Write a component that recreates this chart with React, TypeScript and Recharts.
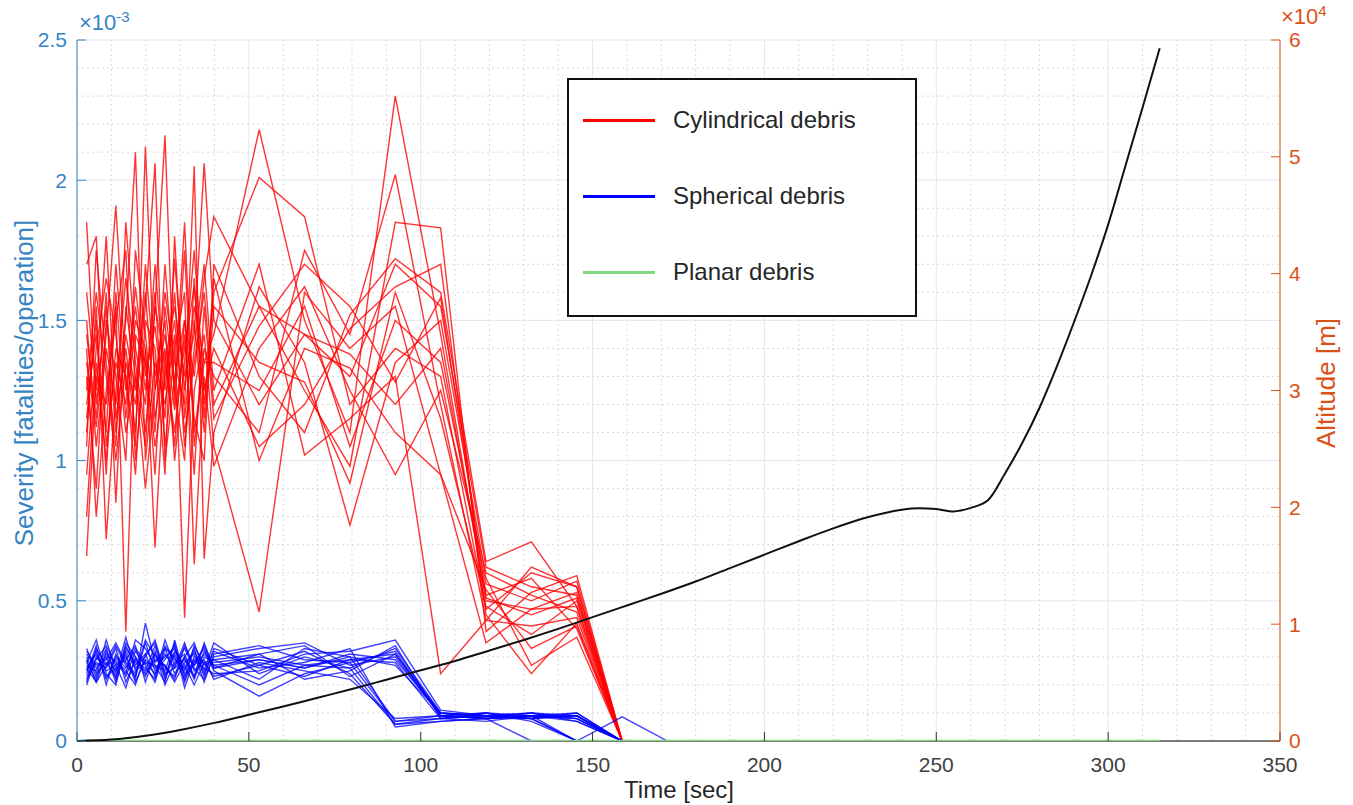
import React from 'react';
import { LineChart, Line, XAxis, YAxis, CartesianGrid, ReferenceLine } from 'recharts';

// sample times (sec): dense phase up to ~40 s, then ~13 s steps
const TIME = [2.8, 5.6, 8.5, 11.3, 14.2, 17.0, 19.9, 22.7, 25.6, 28.4, 31.3, 34.1, 37.0, 39.8, 53, 66.2, 79.4, 92.6, 105.8, 119, 132.2, 145.4, 158.6, 171.8];

// Cylindrical debris severity runs (x1e-3 fatalities/operation)
const CYLINDRICAL = [
  [1.85, 1.20, 1.55, 1.10, 1.45, 1.25, 1.60, 1.15, 1.40, 1.05, 1.50, 1.30, 1.65, 1.87, 1.55, 1.45, 1.30, 1.70, 1.55, 0.62, 0.55, 0.52, 0],
  [1.70, 1.80, 1.05, 1.35, 1.20, 1.62, 1.30, 1.48, 1.15, 1.72, 1.25, 1.55, 1.35, 1.45, 2.18, 1.50, 1.10, 2.30, 1.45, 0.50, 0.47, 0.48, 0],
  [1.35, 1.12, 1.45, 1.91, 1.30, 1.05, 2.12, 1.25, 1.45, 1.18, 1.40, 1.62, 1.20, 1.60, 2.01, 1.87, 1.20, 1.40, 1.30, 0.47, 0.60, 0.55, 0],
  [1.10, 1.55, 0.72, 1.25, 1.65, 1.35, 1.10, 1.55, 2.16, 1.20, 1.75, 1.05, 1.40, 1.30, 1.10, 1.75, 1.45, 2.02, 1.20, 0.43, 0.41, 0.44, 0],
  [0.66, 1.30, 1.20, 1.55, 0.39, 1.45, 1.35, 1.05, 1.30, 1.50, 1.10, 1.35, 1.60, 1.20, 1.55, 1.25, 0.98, 1.85, 1.83, 0.39, 0.53, 0.59, 0],
  [1.50, 1.05, 1.40, 1.20, 1.50, 2.10, 1.00, 1.35, 1.20, 1.45, 0.44, 1.25, 1.45, 1.05, 0.46, 1.60, 1.40, 1.55, 0.95, 0.54, 0.33, 0.41, 0],
  [1.25, 1.60, 1.30, 1.00, 1.35, 1.20, 1.55, 2.06, 1.00, 1.30, 1.50, 1.15, 1.00, 1.70, 1.30, 1.10, 1.52, 1.72, 1.60, 0.64, 0.71, 0.48, 0],
  [0.95, 1.40, 1.65, 1.45, 1.10, 1.30, 0.90, 1.25, 1.60, 1.35, 1.20, 2.05, 0.65, 1.10, 1.62, 1.35, 0.77, 1.35, 1.50, 0.58, 0.27, 0.37, 0],
  [1.40, 0.80, 1.25, 1.50, 1.75, 1.00, 1.40, 0.69, 1.35, 1.55, 1.30, 1.45, 2.06, 1.50, 1.20, 1.45, 1.38, 1.20, 1.40, 0.51, 0.45, 0.51, 0],
  [1.20, 1.45, 1.10, 1.70, 1.25, 1.55, 1.25, 1.60, 1.05, 1.40, 1.60, 0.63, 1.30, 0.98, 1.40, 1.62, 1.25, 0.95, 1.25, 0.60, 0.52, 0.46, 0],
  [1.60, 1.25, 1.80, 1.15, 1.40, 1.10, 1.70, 1.30, 1.50, 1.00, 1.35, 1.75, 1.25, 1.40, 1.05, 1.20, 1.47, 1.62, 1.70, 0.45, 0.24, 0.42, 0],
  [1.05, 1.75, 1.35, 1.05, 1.85, 1.40, 1.20, 1.70, 1.25, 1.60, 1.05, 1.40, 1.70, 1.25, 1.70, 1.02, 1.15, 1.30, 0.24, 0.43, 0.62, 0.55, 0],
  [1.30, 0.90, 1.50, 1.30, 1.00, 1.75, 1.45, 1.10, 1.70, 1.25, 1.85, 1.10, 1.35, 1.35, 1.25, 1.55, 1.05, 1.50, 1.35, 0.56, 0.50, 0.57, 0],
  [0.80, 1.35, 1.00, 1.40, 1.30, 0.95, 1.50, 1.40, 0.95, 1.80, 1.15, 1.50, 1.10, 1.55, 1.35, 1.28, 0.92, 1.60, 1.15, 0.48, 0.38, 0.50, 0],
  [1.45, 1.15, 1.60, 0.85, 1.55, 1.30, 1.05, 1.55, 1.35, 1.10, 1.45, 0.95, 1.55, 1.15, 1.48, 1.70, 1.55, 1.28, 1.58, 0.52, 0.58, 0.40, 0],
  [1.15, 1.50, 0.95, 1.60, 1.15, 1.50, 1.40, 0.95, 1.55, 1.25, 1.00, 1.65, 1.15, 1.65, 1.00, 1.40, 1.33, 1.10, 0.95, 0.35, 0.47, 0.53, 0],
];

// Spherical debris severity runs (x1e-3)
const SPHERICAL = [
  [0.25, 0.32, 0.22, 0.30, 0.26, 0.33, 0.28, 0.24, 0.31, 0.26, 0.29, 0.23, 0.30, 0.28, 0.30, 0.27, 0.29, 0.31, 0.09, 0.08, 0.09, 0.08, 0],
  [0.30, 0.23, 0.36, 0.25, 0.31, 0.22, 0.42, 0.28, 0.33, 0.24, 0.30, 0.35, 0.25, 0.35, 0.24, 0.30, 0.26, 0.33, 0.10, 0.09, 0.10, 0.09, 0],
  [0.22, 0.28, 0.26, 0.33, 0.21, 0.29, 0.25, 0.34, 0.22, 0.31, 0.24, 0.28, 0.33, 0.25, 0.16, 0.24, 0.28, 0.07, 0.08, 0.09, 0.08, 0.10, 0],
  [0.28, 0.36, 0.24, 0.20, 0.34, 0.27, 0.31, 0.23, 0.36, 0.27, 0.33, 0.26, 0.22, 0.30, 0.33, 0.35, 0.27, 0.30, 0.09, 0.10, 0.08, 0, 0],
  [0.26, 0.21, 0.31, 0.28, 0.24, 0.36, 0.33, 0.27, 0.25, 0.35, 0.21, 0.30, 0.28, 0.23, 0.27, 0.32, 0.24, 0.06, 0.07, 0.08, 0, 0, 0],
  [0.32, 0.27, 0.29, 0.35, 0.28, 0.24, 0.36, 0.30, 0.27, 0.22, 0.34, 0.27, 0.31, 0.27, 0.29, 0.26, 0.31, 0.29, 0.10, 0.09, 0.09, 0, 0.086, 0],
  [0.20, 0.30, 0.25, 0.27, 0.30, 0.21, 0.29, 0.26, 0.30, 0.33, 0.25, 0.32, 0.24, 0.32, 0.26, 0.28, 0.33, 0.05, 0.07, 0.08, 0.09, 0.09, 0],
  [0.27, 0.25, 0.33, 0.22, 0.35, 0.30, 0.23, 0.32, 0.20, 0.28, 0.31, 0.23, 0.35, 0.26, 0.31, 0.22, 0.25, 0.34, 0.08, 0.09, 0.10, 0.07, 0],
  [0.24, 0.34, 0.20, 0.31, 0.23, 0.32, 0.27, 0.21, 0.33, 0.30, 0.22, 0.34, 0.27, 0.29, 0.22, 0.33, 0.30, 0.27, 0.10, 0.08, 0.09, 0.10, 0],
  [0.33, 0.24, 0.28, 0.23, 0.32, 0.26, 0.30, 0.36, 0.24, 0.26, 0.35, 0.25, 0.29, 0.22, 0.28, 0.25, 0.22, 0.08, 0.09, 0.08, 0.10, 0.08, 0],
  [0.23, 0.29, 0.34, 0.27, 0.19, 0.30, 0.24, 0.29, 0.27, 0.21, 0.28, 0.31, 0.21, 0.31, 0.34, 0.29, 0.28, 0.32, 0.09, 0.10, 0.07, 0, 0],
  [0.29, 0.21, 0.27, 0.34, 0.27, 0.23, 0.35, 0.25, 0.29, 0.34, 0.19, 0.29, 0.26, 0.24, 0.25, 0.31, 0.32, 0.36, 0.11, 0.09, 0.08, 0.09, 0],
  [0.26, 0.31, 0.23, 0.26, 0.29, 0.34, 0.21, 0.31, 0.26, 0.23, 0.30, 0.22, 0.32, 0.27, 0.20, 0.27, 0.26, 0.06, 0.08, 0.10, 0.09, 0.07, 0],
  [0.31, 0.26, 0.30, 0.21, 0.33, 0.28, 0.26, 0.22, 0.34, 0.29, 0.26, 0.33, 0.23, 0.33, 0.27, 0.23, 0.29, 0.28, 0.08, 0.07, 0.09, 0.08, 0],
  [0.21, 0.33, 0.27, 0.29, 0.25, 0.20, 0.31, 0.35, 0.23, 0.32, 0.27, 0.20, 0.28, 0.29, 0.31, 0.34, 0.23, 0.31, 0.10, 0.09, 0.08, 0.09, 0],
  [0.28, 0.22, 0.32, 0.24, 0.37, 0.25, 0.28, 0.27, 0.21, 0.36, 0.23, 0.27, 0.34, 0.26, 0.29, 0.26, 0.30, 0.07, 0.09, 0.08, 0.08, 0, 0],
];

// Planar debris stays at zero
const PLANAR_TIME = [2.8, 315];
const PLANAR = [0, 0];

// Vehicle altitude (m)
const ALT_TIME = [0, 10, 20, 30, 40, 50, 60, 70, 80, 90, 100, 110, 120, 130, 140, 150, 160, 170, 180, 190, 200, 210, 220, 230, 240, 245, 250, 255, 260, 265, 270, 275, 280, 285, 290, 295, 300, 305, 310, 315];
const ALTITUDE = [0, 120, 450, 950, 1550, 2250, 2950, 3700, 4450, 5250, 6050, 6850, 7750, 8650, 9600, 10600, 11600, 12600, 13650, 14800, 15950, 17100, 18200, 19150, 19800, 19920, 19850, 19650, 19950, 20600, 22900, 25500, 28500, 32000, 35800, 39800, 44200, 49200, 54200, 59300];

const X_TICKS = [0, 50, 100, 150, 200, 250, 300, 350];
const X_MINOR = [10, 20, 30, 40, 60, 70, 80, 90, 110, 120, 130, 140, 160, 170, 180, 190, 210, 220, 230, 240, 260, 270, 280, 290, 310, 320, 330, 340];
const Y_TICKS = [0, 0.5, 1, 1.5, 2, 2.5];
const Y_MINOR = [0.1, 0.2, 0.3, 0.4, 0.6, 0.7, 0.8, 0.9, 1.1, 1.2, 1.3, 1.4, 1.6, 1.7, 1.8, 1.9, 2.1, 2.2, 2.3, 2.4];
const ALT_TICKS = [0, 10000, 20000, 30000, 40000, 50000, 60000];

const LEGEND = [
  { label: 'Cylindrical debris', color: '#ff0000' },
  { label: 'Spherical debris', color: '#0000ff' },
  { label: 'Planar debris', color: '#7fd87f' },
];

const FONT = '"Liberation Sans", Arial, Helvetica, sans-serif';
const BLUE = '#3585c5';
const ORANGE = '#d95319';

const rows = TIME.map((t, i) => {
  const row: Record<string, number | undefined> = { t };
  CYLINDRICAL.forEach((s, k) => { row[`c${k}`] = s[i]; });
  SPHERICAL.forEach((s, k) => { row[`s${k}`] = s[i]; });
  return row;
});
const planarRows = PLANAR_TIME.map((t, i) => ({ t, v: PLANAR[i] }));
const altRows = ALT_TIME.map((t, i) => ({ t, alt: ALTITUDE[i] }));

export default function App() {
  return (
    <div style={{ position: 'absolute', left: 0, top: 0, width: 1353, height: 805, background: '#fff', fontFamily: FONT }}>
      <LineChart width={1353} height={805} data={rows} margin={{ top: 40, right: 33, bottom: 34, left: 37 }}>
        <CartesianGrid xAxisId="bottom" yAxisId="left" stroke="#e2e8ef" strokeWidth={1} />
        {X_MINOR.map((v) => (
          <ReferenceLine key={`mx-${v}`} x={v} xAxisId="bottom" yAxisId="left" stroke="#d9d9d9" strokeDasharray="2 3" />
        ))}
        {Y_MINOR.map((v) => (
          <ReferenceLine key={`my-${v}`} y={v} xAxisId="bottom" yAxisId="left" stroke="#d9d9d9" strokeDasharray="2 3" />
        ))}
        <ReferenceLine y={0} xAxisId="bottom" yAxisId="left" stroke="#555" strokeWidth={1.5} />
        <XAxis
          xAxisId="bottom"
          dataKey="t"
          type="number"
          domain={[0, 350]}
          ticks={X_TICKS}
          allowDataOverflow
          height={30}
          tickSize={-9}
          tickMargin={25}
          axisLine={false}
          stroke="#333"
          tick={{ fill: '#404040', fontSize: 21, fontFamily: FONT }}
        />
        <XAxis
          xAxisId="top"
          orientation="top"
          dataKey="t"
          type="number"
          domain={[0, 350]}
          ticks={X_TICKS}
          height={0}
          tickSize={-9}
          tickFormatter={() => ''}
          stroke="#555"
        />
        <YAxis
          yAxisId="left"
          domain={[0, 2.5]}
          ticks={Y_TICKS}
          width={40}
          tickSize={-9}
          tickMargin={19}
          stroke={BLUE}
          tick={{ fill: BLUE, fontSize: 21, fontFamily: FONT }}
          allowDataOverflow
        />
        <YAxis
          yAxisId="right"
          orientation="right"
          domain={[0, 60000]}
          ticks={ALT_TICKS}
          width={40}
          tickSize={-9}
          tickMargin={18}
          stroke={ORANGE}
          tickFormatter={(v: number) => String(v / 10000)}
          tick={{ fill: ORANGE, fontSize: 21, fontFamily: FONT, textAnchor: 'start' }}
        />
        {CYLINDRICAL.map((_, k) => (
          <Line
            key={`cyl-${k}`}
            xAxisId="bottom"
            yAxisId="left"
            dataKey={`c${k}`}
            type="linear"
            stroke="#ff0000"
            strokeOpacity={0.8}
            strokeWidth={1.4}
            dot={false}
            activeDot={false}
            isAnimationActive={false}
          />
        ))}
        {SPHERICAL.map((_, k) => (
          <Line
            key={`sph-${k}`}
            xAxisId="bottom"
            yAxisId="left"
            dataKey={`s${k}`}
            type="linear"
            stroke="#0000ff"
            strokeOpacity={0.75}
            strokeWidth={1.4}
            dot={false}
            activeDot={false}
            isAnimationActive={false}
          />
        ))}
        <Line
          xAxisId="bottom"
          yAxisId="left"
          data={planarRows}
          dataKey="v"
          type="linear"
          stroke="#7fd87f"
          strokeWidth={2.5}
          dot={false}
          activeDot={false}
          isAnimationActive={false}
        />
        <Line
          xAxisId="bottom"
          yAxisId="right"
          data={altRows}
          dataKey="alt"
          type="monotone"
          stroke="#111"
          strokeWidth={2}
          dot={false}
          activeDot={false}
          isAnimationActive={false}
        />
      </LineChart>

      {/* exponent labels */}
      <div style={{ position: 'absolute', left: 79, top: 8, color: BLUE, fontSize: 22, whiteSpace: 'nowrap' }}>
        ×10<sup style={{ fontSize: 15 }}>-3</sup>
      </div>
      <div style={{ position: 'absolute', left: 1281, top: 2, color: ORANGE, fontSize: 22, whiteSpace: 'nowrap' }}>
        ×10<sup style={{ fontSize: 15 }}>4</sup>
      </div>

      {/* axis titles */}
      <div style={{ position: 'absolute', left: 24, top: 383, transform: 'translate(-50%, -50%) rotate(-90deg)', color: BLUE, fontSize: 26, whiteSpace: 'nowrap' }}>
        Severity [fatalities/operation]
      </div>
      <div style={{ position: 'absolute', left: 1326, top: 383, transform: 'translate(-50%, -50%) rotate(-90deg)', color: ORANGE, fontSize: 26, whiteSpace: 'nowrap' }}>
        Altitude [m]
      </div>
      <div style={{ position: 'absolute', left: 679, top: 790, transform: 'translate(-50%, -50%)', color: '#262626', fontSize: 24, whiteSpace: 'nowrap' }}>
        Time [sec]
      </div>

      {/* legend */}
      <div style={{ position: 'absolute', left: 567, top: 78, width: 346, height: 235, border: '2.5px solid #111', background: '#fff' }}>
        {LEGEND.map((item, i) => (
          <div key={`lg-${item.label}`} style={{ position: 'absolute', left: 14, top: 26 + i * 76, display: 'flex', alignItems: 'center' }}>
            <span style={{ display: 'inline-block', width: 72, height: 3, background: item.color }} />
            <span style={{ marginLeft: 18, fontSize: 24, color: '#262626' }}>{item.label}</span>
          </div>
        ))}
      </div>
    </div>
  );
}
